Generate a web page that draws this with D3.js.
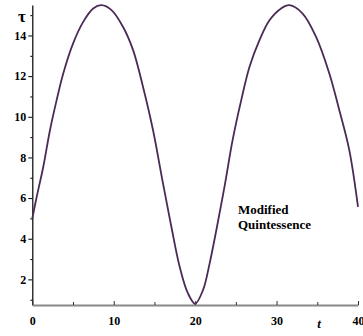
<!DOCTYPE html>
<html>
<head>
<meta charset="UTF-8">
<script src="https://d3js.org/d3.v7.min.js"></script>
<style>
  body { margin: 0; background: #fff; }
  .tick text { font-family: "Liberation Serif", "DejaVu Serif", serif; font-weight: bold; font-size: 12px; fill: #000; }
</style>
</head>
<body>
<div id="chart"></div>
<script>
// values
var tVals   = [0, 0.54, 1.35, 2.17, 2.99, 3.8, 5.0, 6.25, 7.48, 8.5, 9.73, 11.15, 12.38, 13.6, 14.83, 16.05, 17.08, 18.1, 19.12, 20.0, 20.96, 21.78, 22.6, 23.6, 24.6, 25.66, 26.68, 27.9, 29.13, 30.56, 31.58, 33.2, 34.85, 36.48, 37.7, 38.93, 40];
var tauVals = [5.0, 6.06, 7.54, 9.34, 10.82, 12.13, 13.6, 14.67, 15.33, 15.49, 15.25, 14.42, 13.28, 11.47, 9.34, 6.72, 4.59, 2.62, 1.31, 0.8, 1.47, 2.79, 4.42, 6.55, 8.85, 10.82, 12.46, 13.77, 14.75, 15.33, 15.49, 15.08, 13.93, 12.13, 10.33, 8.36, 5.57];
var xTicks = [0, 10, 20, 30, 40];
var xMinor = [5, 15, 25, 35];
var yTicks = [2, 4, 6, 8, 10, 12, 14];
var yMinor = [1, 3, 5, 7, 9, 11, 13, 15];

var width = 363, height = 336;

var svg = d3.select("#chart").append("svg")
  .attr("width", width)
  .attr("height", height);

var x = d3.scaleLinear().domain([0, 40]).range([32.3, 358]);
var y = d3.scaleLinear().domain([0.74, 15.5]).range([305, 5]);

// y axis
var yAxis = svg.append("g")
  .attr("transform", "translate(" + x(0) + ",0)")
  .call(d3.axisLeft(y).tickValues(yTicks).tickFormat(d3.format("d")).tickSize(4).tickSizeOuter(0).tickPadding(2));
yAxis.select(".domain").attr("stroke", "#000").attr("stroke-width", 1.2);
svg.append("g")
  .attr("transform", "translate(" + x(0) + ",0)")
  .call(d3.axisLeft(y).tickValues(yMinor).tickFormat("").tickSize(2).tickSizeOuter(0))
  .select(".domain").remove();

// x axis, ticks pointing up
var xAxis = svg.append("g")
  .attr("transform", "translate(0," + y(0.74) + ")")
  .call(d3.axisBottom(x).tickValues(xTicks).tickFormat(d3.format("d")).tickSize(-4).tickSizeOuter(0).tickPadding(11));
xAxis.select(".domain").attr("stroke", "#888").attr("stroke-width", 2);
xAxis.selectAll(".tick line").attr("stroke", "#333");
svg.append("g")
  .attr("transform", "translate(0," + y(0.74) + ")")
  .call(d3.axisBottom(x).tickValues(xMinor).tickFormat("").tickSize(-3).tickSizeOuter(0))
  .call(function(g) { g.select(".domain").remove(); g.selectAll(".tick line").attr("stroke", "#333"); });

// curve
var pts = tVals.map(function(t, i) { return [t, tauVals[i]]; });
var line = d3.line()
  .x(function(d) { return x(d[0]); })
  .y(function(d) { return y(d[1]); })
  .curve(d3.curveCatmullRom.alpha(0.5));

svg.append("path")
  .datum(pts)
  .attr("d", line)
  .attr("fill", "none")
  .attr("stroke", "#4b2a55")
  .attr("stroke-width", 1.8);

// axis titles
svg.append("text")
  .attr("x", 22).attr("y", 22)
  .attr("text-anchor", "middle")
  .attr("font-family", "Liberation Serif, serif")
  .attr("font-weight", "bold")
  .attr("font-size", 17)
  .text("τ");

svg.append("text")
  .attr("x", 319).attr("y", 328)
  .attr("text-anchor", "middle")
  .attr("font-family", "Liberation Serif, serif")
  .attr("font-weight", "bold")
  .attr("font-style", "italic")
  .attr("font-size", 13)
  .text("t");

// annotation
var note = svg.append("text")
  .attr("font-family", "Liberation Serif, serif")
  .attr("font-weight", "bold")
  .attr("font-size", 13)
  .attr("fill", "#000");
note.append("tspan").attr("x", 238).attr("y", 214).text("Modified");
note.append("tspan").attr("x", 238).attr("y", 229).text("Quintessence");
</script>
</body>
</html>
